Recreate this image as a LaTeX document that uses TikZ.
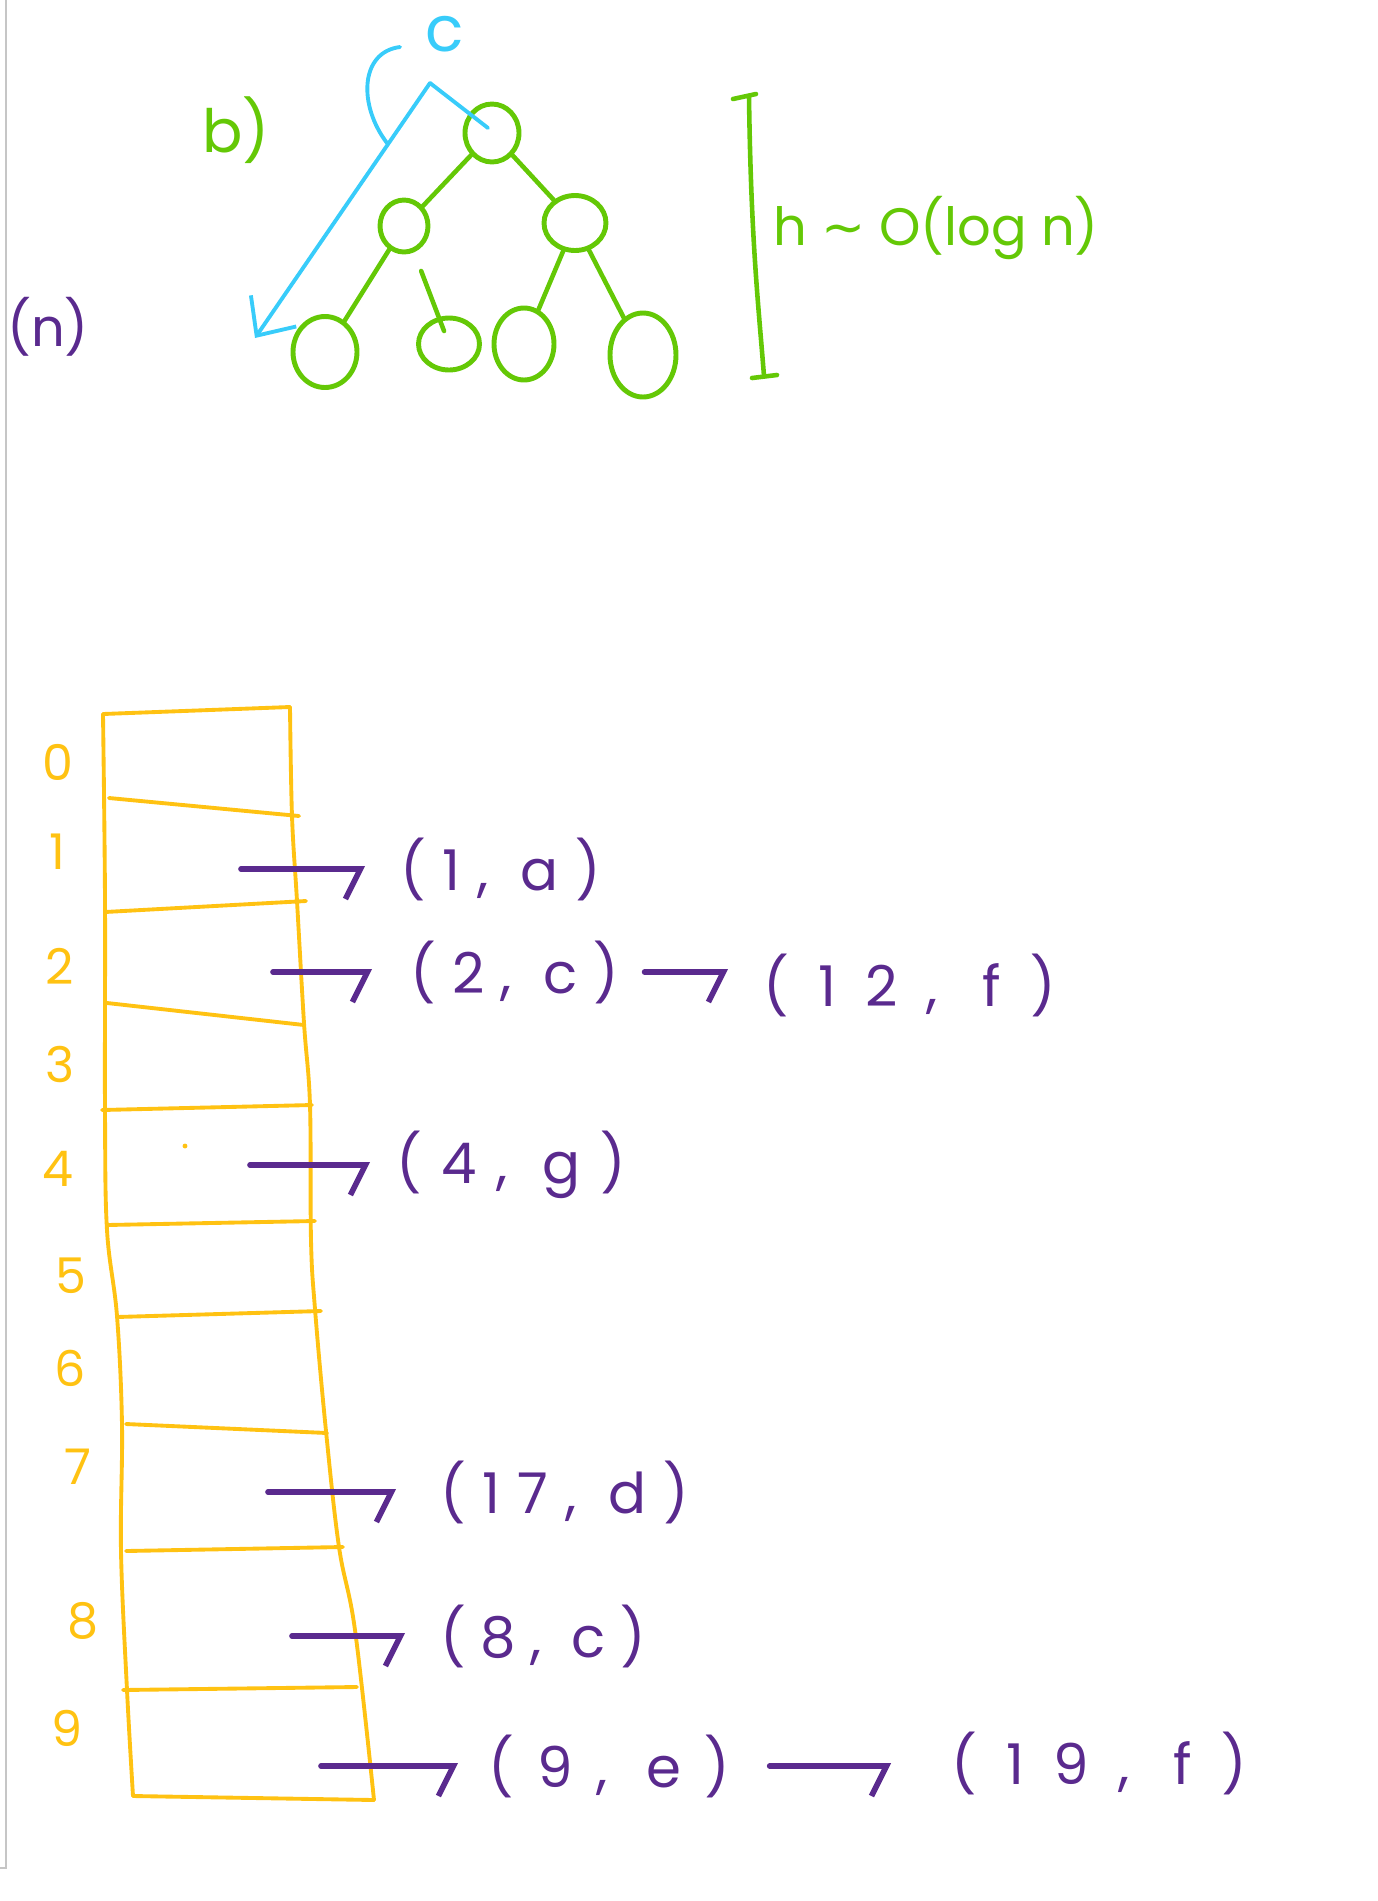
\documentclass[tikz,border=0pt]{standalone}
\usepackage{fontspec}
\setmainfont{Poppins}
\newfontfamily\symfont{DejaVu Sans}
\newcommand\handfont[1]{\fontspec[LetterSpace=#1]{Poppins}\fontsize{32}{38}\selectfont}
\usetikzlibrary{arrows.meta,positioning,calc,shapes.geometric}
\definecolor{Leaf}{HTML}{64C806}
\definecolor{Sky}{HTML}{38CCFA}
\definecolor{Amber}{HTML}{FFC212}
\definecolor{Plum}{HTML}{5A2A8E}
\definecolor{Rule}{HTML}{C6C6C6}

\begin{document}
\begin{tikzpicture}[x=0.02cm, y=-0.02cm,
  vertex/.style={ellipse, draw=Leaf, line width=2.8pt, inner sep=0pt},
  edge/.style={Leaf, line width=2.6pt, line cap=round},
  walk/.style={Sky, line width=2.2pt, line cap=round, line join=round},
  cell/.style={Amber, line width=2.2pt, line cap=round, line join=round},
  idx/.style={Amber, font=\fontsize{28}{34}\selectfont, inner sep=0pt},
  note/.style={font=\fontsize{34}{40}\selectfont, inner sep=0pt},
  entry/.style={Plum, font=\handfont{#1}, anchor=west, inner sep=0pt},
  entry/.default=30,
  link/.style={Plum, line width=3.2pt, line cap=round,
    -{Straight Barb[right, length=0.3cm, width=1.2cm]}},
]
\useasboundingbox (0,0) rectangle (1377,1901);
\draw[Rule, line width=1.2pt] (6,0) -- (6,1868) -- (0,1868);

\node[vertex, minimum width=1.08cm, minimum height=1.16cm] (n1) at (492,133) {};
\node[vertex, minimum width=0.96cm, minimum height=1.04cm] (n2) at (404,226) {};
\node[vertex, minimum width=1.24cm, minimum height=1.10cm] (n3) at (575,223) {};
\node[vertex, minimum width=1.28cm, minimum height=1.42cm] (n4) at (325,352) {};
\node[vertex, minimum width=1.22cm, minimum height=1.04cm] (n5) at (449,344) {};
\node[vertex, minimum width=1.20cm, minimum height=1.44cm] (n6) at (524,344) {};
\node[vertex, minimum width=1.32cm, minimum height=1.68cm] (n7) at (643,355) {};

\draw[edge] (n1) -- (n2);
\draw[edge] (n1) -- (n3);
\draw[edge] (n2) -- (n4);
\draw[edge, shorten <=0.4cm, shorten >=-0.3cm] (n2) -- (n5);
\draw[edge] (n3) -- (n6);
\draw[edge] (n3) -- (n7);

\node[note, Leaf] (part) at (236,130) {b)};
\node[note, Plum, font=\fontsize{30}{36}\selectfont] (size) at (48,327) {(n)};
\node[note, Sky, font=\fontsize{36}{42}\selectfont] (key) at (445,34) {c};

\coordinate (peak) at (430,83);
\coordinate (tip) at (255,338);
\draw[walk] (peak) -- ($(n1.center)+(-4,-5)$);
\draw[walk, -{Straight Barb[length=0.6cm, width=1.1cm]}] (peak) -- (tip);
\draw[walk] (400,47) .. controls (360,52) and (358,105) .. (387,143);

\coordinate (htop) at (749,97);
\coordinate (hbot) at (764,376);
\draw[edge] (733,99) -- (756,94);
\draw[edge] (htop) .. controls (751,240) and (758,300) .. (hbot);
\draw[edge] (752,378) -- (777,375);
\node[note, Leaf, font=\fontsize{30}{36}\selectfont, anchor=west] (height) at (773,228)
  {h {\symfont ∼} O(log n)};

\draw[cell] (103,714) -- (290,707);
\draw[cell] plot[smooth, tension=0.6] coordinates {(103,714) (105,900) (105,1110) (107,1230)
  (117,1316) (122,1425) (121,1551) (127,1690) (133,1796)};
\draw[cell] plot[smooth, tension=0.6] coordinates {(290,707) (292,816) (297,901) (304,1023)
  (310,1105) (311,1240) (315,1309) (326,1431) (339,1547) (355,1630) (374,1800)};
\draw[cell] (133,1796) -- (374,1800);
\foreach \xa/\ya/\xb/\yb in {109/798/299/816, 105/912/306/901, 107/1003/304/1025,
    102/1110/312/1105, 107/1225/315/1221, 117/1317/321/1311, 126/1424/327/1433,
    126/1551/343/1547, 123/1690/357/1687}
  \draw[cell] (\xa,\ya) -- (\xb,\yb);
\fill[Amber] (185,1146) circle (1.4pt);

\foreach \i/\x/\y in {0/58/762, 1/57/852, 2/60/966, 3/60/1064, 4/58/1169,
    5/71/1276, 6/70/1368, 7/78/1467, 8/83/1621, 9/67/1728}
  \node[idx] (i\i) at (\x,\y) {\i};

\node[entry=30] (e1) at (400,869) {(1, a)};
\node[entry=29] (e2) at (410,972) {(2, c)};
\node[entry=52] (e2b) at (763,985) {(12, f)};
\node[entry=35] (e4) at (396,1165) {(4, g)};
\node[entry=30] (e7) at (440,1492) {(17, d)};
\node[entry=26] (e8) at (440,1636) {(8, c)};
\node[entry=42] (e9) at (488,1766) {(9, e)};
\node[entry=52] (e9b) at (951,1763) {(19, f)};

\coordinate (s1) at (241,869);
\coordinate (s2) at (273,972);
\coordinate (s4) at (250,1165);
\coordinate (s7) at (268,1492);
\coordinate (s8) at (292,1636);
\coordinate (s9) at (321,1766);

\draw[link, shorten >=0.7cm] (s1) -- (s1 -| e1.west);
\draw[link, shorten >=0.76cm] (s2) -- (s2 -| e2.west);
\draw[link, shorten >=0.52cm] (s4) -- (s4 -| e4.west);
\draw[link, shorten >=0.88cm] (s7) -- (s7 -| e7.west);
\draw[link, shorten >=0.7cm] (s8) -- (s8 -| e8.west);
\draw[link, shorten >=0.6cm] (s9) -- (s9 -| e9.west);
\draw[link, shorten <=0.5cm, shorten >=0.7cm] (e2.east) -- (e2.east -| e2b.west);
\draw[link, shorten <=0.78cm, shorten >=1.2cm] (e9.east) -- (e9.east -| e9b.west);
\end{tikzpicture}
\end{document}
